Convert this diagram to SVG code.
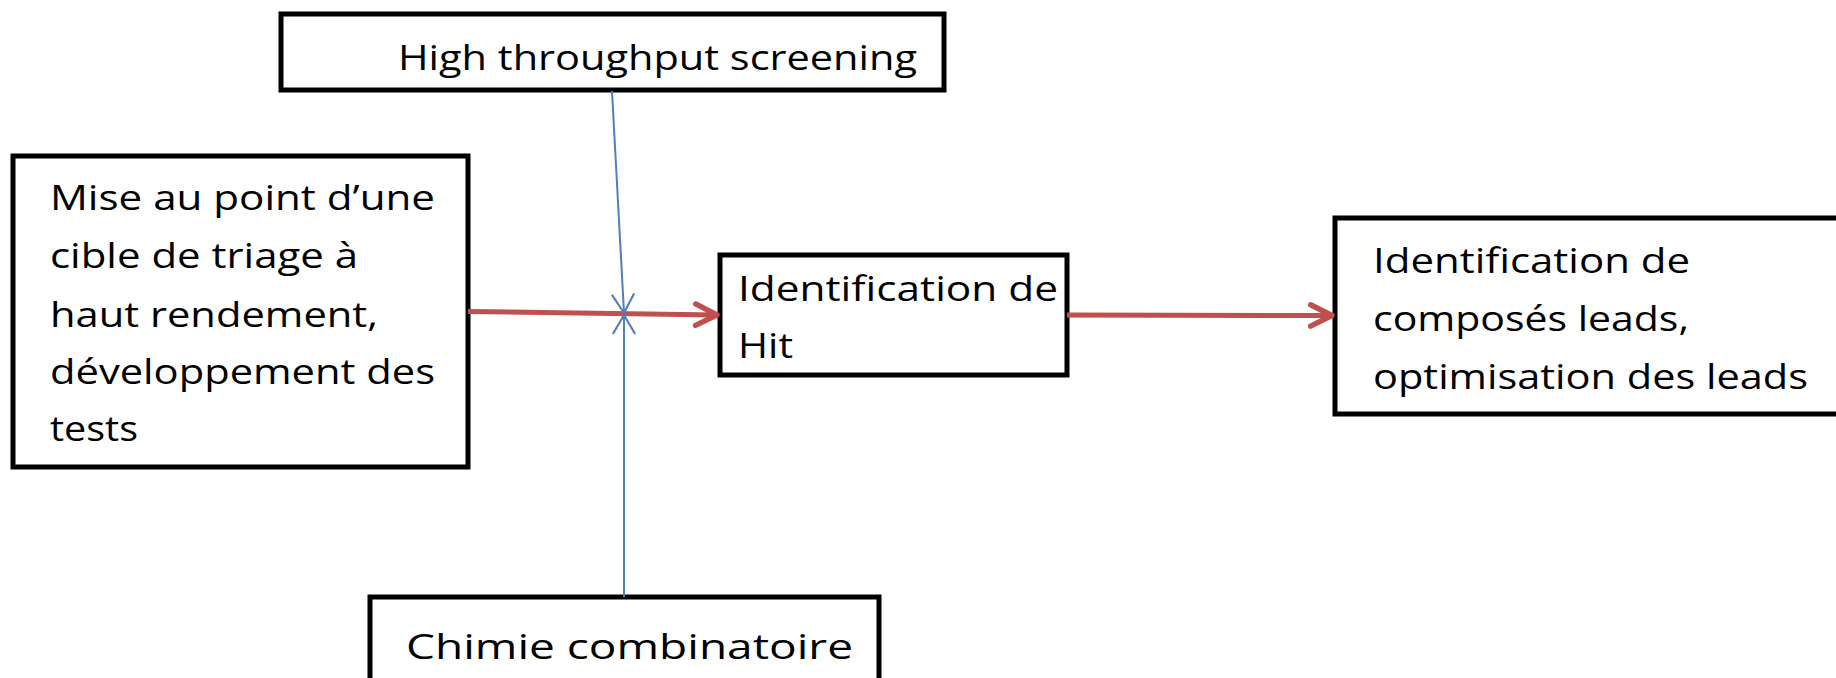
<svg xmlns="http://www.w3.org/2000/svg" width="1836" height="678" viewBox="0 0 1836 678">
  <style>
    .box { fill: #ffffff; stroke: #000000; stroke-width: 5; }
    .lbl { font-family: "Open Sans", "Noto Sans", sans-serif; font-size: 35px; fill: #000000; }
    .red { stroke: #C0504D; stroke-width: 5; fill: none; }
    .blue { stroke: #4F81BD; stroke-width: 2; fill: none; }
  </style>
  <defs>
    <marker id="redHead" markerUnits="userSpaceOnUse" markerWidth="30" markerHeight="30" viewBox="-24 -14 28 28" refX="0" refY="0" orient="auto" overflow="visible">
      <path d="M-20,-10 L0,0 L-20,10" fill="none" stroke="#C0504D" stroke-width="5" stroke-linecap="round" stroke-linejoin="round"/>
    </marker>
    <marker id="blueHead" markerUnits="userSpaceOnUse" markerWidth="30" markerHeight="30" viewBox="-20 -14 24 28" refX="0" refY="0" orient="auto" overflow="visible">
      <path d="M-17,-10 L0,0 L-17,10" fill="none" stroke="#4F81BD" stroke-width="2" stroke-linecap="round"/>
    </marker>
  </defs>
  <rect width="1836" height="678" fill="#ffffff"/>

  <g id="hts">
    <rect class="box" x="281" y="14" width="663" height="76"/>
    <text class="lbl" x="398" y="70" textLength="519" lengthAdjust="spacingAndGlyphs">High throughput screening</text>
  </g>

  <g id="target">
    <rect class="box" x="13" y="156" width="455" height="311"/>
    <text class="lbl" x="50" y="210" textLength="385" lengthAdjust="spacingAndGlyphs">Mise au point d’une</text>
    <text class="lbl" x="50" y="268" textLength="308" lengthAdjust="spacingAndGlyphs">cible de triage à</text>
    <text class="lbl" x="50" y="327" textLength="328" lengthAdjust="spacingAndGlyphs">haut rendement,</text>
    <text class="lbl" x="50" y="384" textLength="385" lengthAdjust="spacingAndGlyphs">développement des</text>
    <text class="lbl" x="50" y="441" textLength="88" lengthAdjust="spacingAndGlyphs">tests</text>
  </g>

  <g id="hit">
    <rect class="box" x="720" y="255" width="347" height="120"/>
    <text class="lbl" x="738" y="301" textLength="320" lengthAdjust="spacingAndGlyphs">Identification de</text>
    <text class="lbl" x="738" y="358" textLength="55" lengthAdjust="spacingAndGlyphs">Hit</text>
  </g>

  <g id="leads">
    <rect class="box" x="1335" y="218" width="520" height="196"/>
    <text class="lbl" x="1373" y="273" textLength="317" lengthAdjust="spacingAndGlyphs">Identification de</text>
    <text class="lbl" x="1373" y="331" textLength="316" lengthAdjust="spacingAndGlyphs">composés leads,</text>
    <text class="lbl" x="1373" y="389" textLength="435" lengthAdjust="spacingAndGlyphs">optimisation des leads</text>
  </g>

  <g id="combi">
    <rect class="box" x="370" y="597" width="509" height="100"/>
    <text class="lbl" x="406" y="659" textLength="447" lengthAdjust="spacingAndGlyphs">Chimie combinatoire</text>
  </g>

  <g id="connectors">
    <path class="red" d="M468,311.5 L717,315" marker-end="url(#redHead)"/>
    <path class="red" d="M1067,315 L1332,315.5" marker-end="url(#redHead)"/>
    <path class="blue" d="M612,91 L624,313" marker-end="url(#blueHead)"/>
    <path class="blue" d="M624,597 L624,315" marker-end="url(#blueHead)"/>
  </g>
</svg>
